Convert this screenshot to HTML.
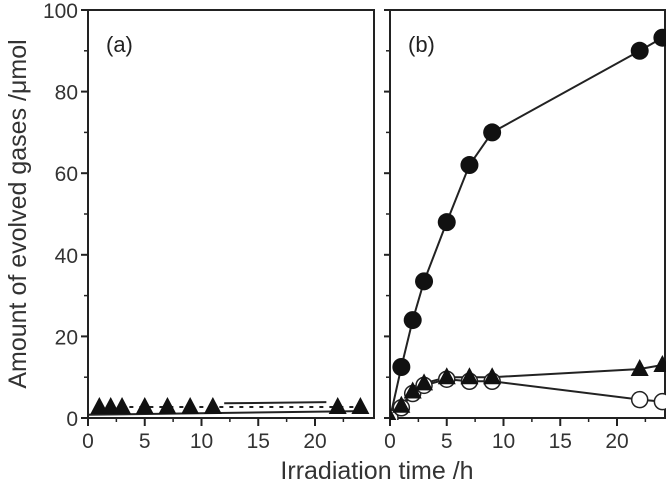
<!DOCTYPE html>
<html><head><meta charset="utf-8"><style>
body{margin:0;background:#fff}
svg{display:block;font-family:"Liberation Sans",sans-serif}
</style></head><body>
<svg id="c" width="666" height="488"></svg>
<script>
const ticksY=[0,20,40,60,80,100];
const ticksX=[0,5,10,15,20];
const bTime=[1,2,3,5,7,9,22,24];
const bH2=[12.5,24,33.5,48,62,70,90,93.2];
const triTime=[0,1,2,3,5,7,9,22,24];
const bTri=[0,3,6.5,8.5,10,10,10,12,13];
const openTime=[0,1,2,3,5,7,9,22,24];
const bOpen=[0,2.5,6,8,9.5,9,9,4.5,4];
const aTime=[1,2,3,5,7,9,11,22,24];
const aTri=[2.7,2.7,2.7,2.7,2.7,2.7,2.7,2.7,2.7];
const aLine1X=[12,21];
const aLine1Y=[3.6,3.9];
const aLine2X=[0,24];
const aLine2Y=[0.8,1.7];
const NS="http://www.w3.org/2000/svg";
const svg=document.getElementById('c');
const yS=v=>418-v*4.08;
const panels=[{x0:88,r:374,name:'panel-a'},{x0:390,r:665,name:'panel-b'}];
function el(t,a,p){const e=document.createElementNS(NS,t);for(const k in a)e.setAttribute(k,a[k]);(p||svg).appendChild(e);return e;}
function xs(p){return v=>p.x0+v*11.35;}
panels.forEach((p,i)=>{
 const g=el('g',{});
 
 
 el('rect',{x:p.x0,y:10,width:p.r-p.x0,height:408,fill:'none',stroke:'#222','stroke-width':2},g);
 const X=xs(p);
 ticksX.forEach(t=>{el('line',{x1:X(t),x2:X(t),y1:418,y2:426,stroke:'#222','stroke-width':2},g);
  const tx=el('text',{x:X(t),y:448,'text-anchor':'middle','font-size':21,fill:'#333'},g);tx.textContent=t;});
 [2.5,7.5,12.5,17.5,22.5].forEach(t=>el('line',{x1:X(t),x2:X(t),y1:418,y2:422,stroke:'#222','stroke-width':1.5},g));
 ticksY.forEach(t=>{el('line',{x1:p.x0-(i?6:7),x2:p.x0,y1:yS(t),y2:yS(t),stroke:'#222','stroke-width':2},g);
  el('line',{x1:p.x0-4,x2:p.x0,y1:yS(t+10),y2:yS(t+10),stroke:'#222','stroke-width':1.5},g);
  if(i===0){const tx=el('text',{x:p.x0-10,y:yS(t)+8,'text-anchor':'end','font-size':21,fill:'#333'},g);tx.textContent=t;}});
 const lab=el('text',{x:p.x0+18,y:52,'font-size':22,fill:'#222'},g);lab.textContent=i?'(b)':'(a)';
 
});
const clip=el('clipPath',{id:'cb'});el('rect',{x:390,y:0,width:276,height:420},clip);
function path(X,xa,ya,extra,par){return el('path',Object.assign({d:xa.map((v,i)=>(i?'L':'M')+X(v)+','+yS(ya[i])).join(''),fill:'none',stroke:'#222','stroke-width':2},extra||{}),par);}
function tri(cx,cy,par){return el('path',{d:`M${cx},${cy-10}L${cx+9},${cy+7}L${cx-9},${cy+7}Z`,fill:'#111'},par);}
const XA=xs(panels[0]);
path(XA,aLine1X,aLine1Y);path(XA,aLine2X,aLine2Y);
path(XA,aTime,aTri,{'stroke-dasharray':'4,6'});
aTime.forEach((t,i)=>{const m=tri(XA(t),yS(aTri[i]));});
const gb=el('g',{'clip-path':'url(#cb)'});
const XB=xs(panels[1]);
path(XB,[0].concat(bTime),[0].concat(bH2),{},gb);
path(XB,triTime,bTri,{},gb);
path(XB,openTime,bOpen,{},gb);
bTime.forEach((t,i)=>{const m=el('circle',{cx:XB(t),cy:yS(bH2[i]),r:9,fill:'#111'},gb);});
openTime.forEach((t,i)=>{const m=el('circle',{cx:XB(t),cy:yS(bOpen[i]),r:8,fill:'#fff',stroke:'#222','stroke-width':1.5},gb);});
triTime.forEach((t,i)=>{const m=tri(XB(t),yS(bTri[i]),gb);});
const xt=el('text',{x:377,y:479,'text-anchor':'middle','font-size':25,fill:'#333'});xt.textContent='Irradiation time /h';

const yt=el('text',{x:0,y:0,'text-anchor':'middle','font-size':25,fill:'#333',transform:'translate(26,214) rotate(-90)'});yt.textContent='Amount of evolved gases /\u03bcmol';

</script>
</body></html>
